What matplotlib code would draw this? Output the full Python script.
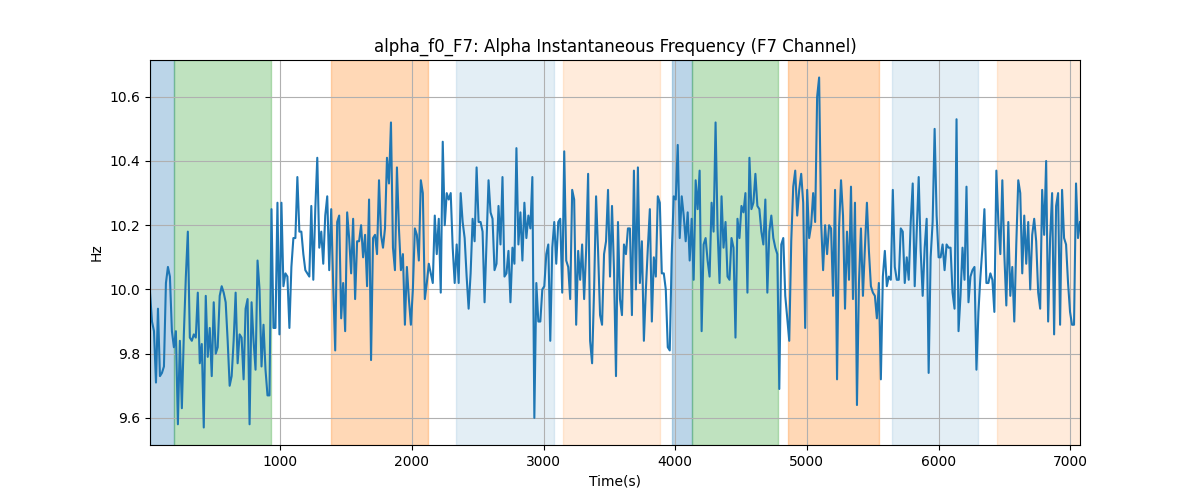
import numpy as np
import matplotlib
matplotlib.use("Agg")
import matplotlib.pyplot as plt

t_start, t_end = 11, 7074

freq_hz = [
    9.99, 9.90, 9.87, 9.71, 9.94, 9.73, 9.74, 9.76, 10.02, 10.07, 10.04, 9.87, 9.82, 9.87, 9.58, 9.84, 9.63, 9.86, 10.04, 10.18,
    9.85, 9.84, 9.86, 9.85, 9.99, 9.77, 9.83, 9.57, 9.98, 9.79, 9.88, 9.73, 9.96, 9.80, 9.82, 9.98, 10.01, 9.99, 9.96, 9.84,
    9.70, 9.73, 9.84, 9.99, 9.77, 9.86, 9.85, 9.72, 9.94, 9.97, 9.58, 9.96, 9.84, 9.75, 10.09, 10.00, 9.76, 9.89, 9.75, 9.67,
    9.67, 10.25, 9.88, 9.88, 10.27, 9.86, 10.27, 10.01, 10.05, 10.04, 9.88, 10.07, 10.16, 10.16, 10.35, 10.18, 10.18, 10.11,
    10.06, 10.05, 10.04, 10.26, 10.03, 10.25, 10.41, 10.13, 10.18, 10.08, 10.23, 10.29, 10.06, 10.25, 10.01, 9.81, 10.21,
    10.23, 9.91, 10.02, 9.87, 10.24, 10.16, 10.05, 10.22, 9.97, 10.15, 10.15, 10.20, 10.10, 10.17, 10.01, 10.28, 9.78, 10.16,
    10.17, 10.11, 10.34, 10.17, 10.13, 10.19, 10.41,
    10.33, 10.52, 10.13, 10.06, 10.38, 10.19, 10.06, 10.11, 9.89, 10.07, 9.97, 9.89, 10.00, 10.19, 10.17, 10.09, 10.34, 10.30,
    9.97, 10.02, 10.08, 10.05, 10.02, 10.23, 10.11, 10.22, 9.99, 10.46, 10.20, 10.30, 10.28, 10.30, 10.13, 10.02, 10.14, 10.02,
    10.30, 10.21, 10.16, 10.04, 9.94, 10.05, 10.22, 10.15, 10.38, 10.21, 10.21, 10.18, 9.96, 10.15, 10.34, 10.24, 10.22, 10.06,
    10.08, 10.26, 10.14, 10.35, 10.04, 10.05, 10.12,
    9.96, 10.13, 10.08, 10.44, 10.14, 10.24, 10.09, 10.27, 10.16, 10.23, 10.19, 10.35, 9.60, 10.02, 9.90, 9.90, 10.00, 10.01,
    10.11, 10.14, 9.84, 10.13, 10.21, 10.08, 10.21, 10.22, 9.99, 10.43, 10.09, 10.07, 9.97, 10.31, 10.28, 9.89, 10.12, 10.03,
    10.14, 9.97, 10.12, 10.36, 9.84, 9.77, 10.00, 10.29, 10.12, 9.92, 9.89, 10.11, 10.15, 10.31, 10.04, 10.26, 10.06, 9.73,
    10.21, 9.97, 9.92, 10.14, 10.11, 10.19, 10.19,
    9.92, 10.37, 10.00, 10.38, 10.02, 10.15, 9.84, 10.00, 10.13, 10.25, 9.90, 10.10, 10.04, 10.29, 10.27, 10.05, 10.05, 10.00,
    9.82, 9.81, 10.11, 10.29, 10.28, 10.45, 10.16, 10.29, 10.23, 10.15, 10.24, 10.09, 10.22, 10.03, 10.34, 10.25, 10.37, 9.87,
    10.14, 10.16, 10.09, 10.04, 10.27, 10.18, 10.52, 10.19, 10.02, 10.29, 10.13, 10.21, 10.04, 10.03, 10.16, 10.13, 9.85, 10.22,
    10.16, 10.26, 10.24, 10.30, 9.99, 10.41,
    10.25, 10.27, 10.36, 10.26, 10.25, 10.18, 10.14, 10.28, 9.99, 10.18, 10.23, 10.16, 10.13, 10.11, 9.69, 10.14, 10.16, 9.98,
    9.91, 9.84, 10.15, 10.32, 10.37, 10.23, 10.31, 10.36, 10.27, 9.88, 10.31, 10.16, 10.20, 10.30, 10.21, 10.60, 10.66, 10.21,
    10.06, 10.20, 10.11, 10.20, 10.19, 9.98, 10.31, 9.72, 10.19, 10.34, 10.23, 9.94, 10.18, 10.03, 10.32, 9.97, 10.27, 9.64,
    10.02, 10.19, 9.98, 10.13, 10.27, 10.12,
    10.01, 9.99, 9.98, 9.91, 10.02, 9.72, 10.04, 10.12, 10.01, 10.04, 10.03, 10.31, 10.07, 10.03, 10.03, 10.19, 10.18, 10.02,
    10.10, 10.03, 10.21, 10.33, 10.01, 10.18, 10.35, 10.12, 9.98, 10.13, 10.22, 9.74, 10.10, 10.21, 10.50, 10.23, 10.10, 10.10,
    10.14, 10.06, 10.14, 10.13, 10.13, 9.99, 9.94, 10.53, 9.87, 9.98, 10.13, 10.03, 10.32, 9.96, 10.04, 10.06,
    10.07, 9.75, 9.93, 10.04, 10.13, 10.25, 10.02, 10.02, 10.05, 10.03, 9.93, 10.37, 10.21, 10.11, 10.34, 10.11, 9.95, 10.21,
    9.98, 10.07, 9.90, 10.14, 10.34, 10.30, 10.05, 10.23, 10.08, 10.21, 10.00, 10.17, 10.22, 10.15, 9.99, 9.94, 10.31, 10.17,
    10.40, 9.90, 10.16, 10.30, 9.86, 10.26, 10.30, 9.89, 10.31, 10.16, 10.14, 10.02, 9.93, 9.89, 9.89, 10.33, 10.16, 10.21,
]

span_starts = [11, 195, 1385, 2334, 3147, 3977, 4131, 4855, 5645, 6442]
span_ends = [195, 927, 2119, 3078, 3883, 4131, 4784, 5544, 6298, 7074]
span_colors = ["tab:blue", "tab:green", "tab:orange", "tab:blue", "tab:orange",
               "tab:blue", "tab:green", "tab:orange", "tab:blue", "tab:orange"]
span_alphas = [0.3, 0.3, 0.3, 0.12, 0.15, 0.3, 0.3, 0.3, 0.12, 0.15]

time_s = np.linspace(t_start, t_end, len(freq_hz))

fig, ax = plt.subplots(figsize=(12, 5), dpi=100)
for s, e, c, a in zip(span_starts, span_ends, span_colors, span_alphas):
    ax.axvspan(s, e, color=c, alpha=a)
ax.plot(time_s, freq_hz, color="tab:blue", linewidth=1.5)
ax.set_xlim(t_start, t_end)
ax.grid(True)
ax.set_title("alpha_f0_F7: Alpha Instantaneous Frequency (F7 Channel)")
ax.set_xlabel("Time(s)")
ax.set_ylabel("Hz")
fig.savefig("out.png")
